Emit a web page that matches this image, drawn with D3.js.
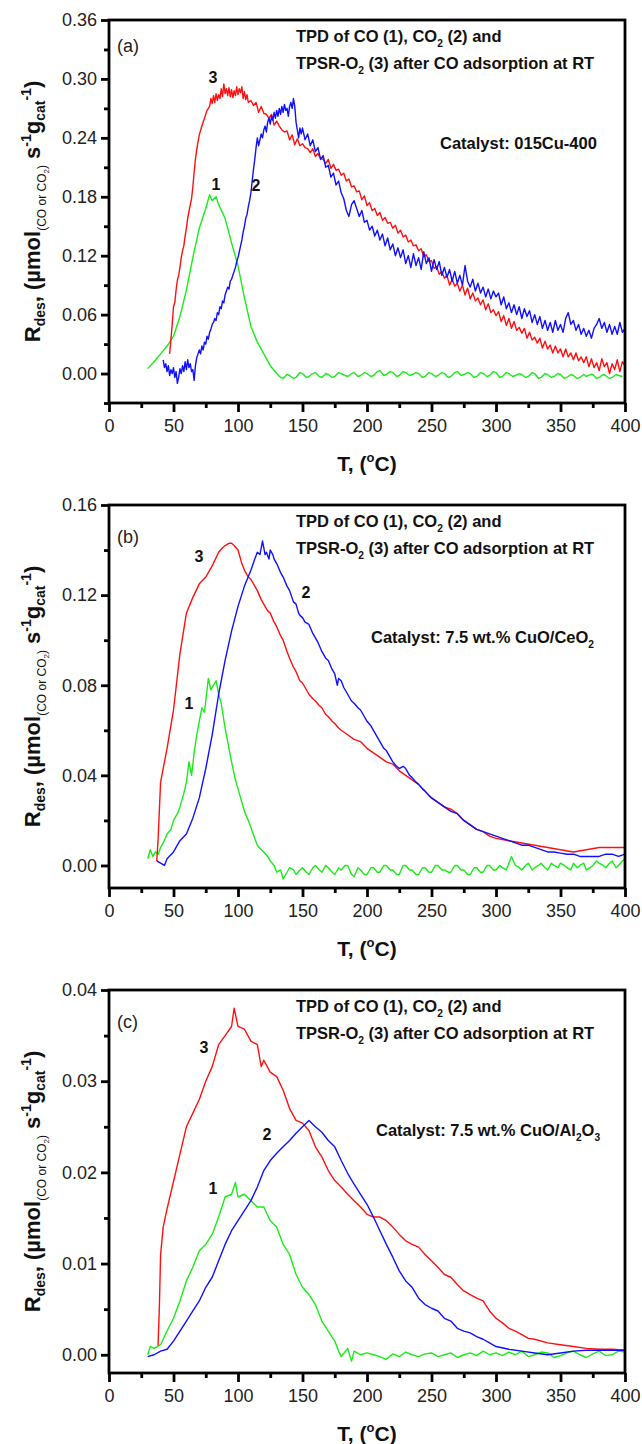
<!DOCTYPE html>
<html>
<head>
<meta charset="utf-8">
<script src="https://cdn.jsdelivr.net/npm/d3@7"></script>
<style>
  html, body { margin: 0; padding: 0; background: #fff; }
  svg { display: block; font-family: "Liberation Sans", Arial, sans-serif; }
</style>
</head>
<body>
<svg id="chart" width="642" height="1444"></svg>
<script>
// Temperature axis ticks (°C)
const tempTicks = [0, 50, 100, 150, 200, 250, 300, 350, 400];
const tempMinorTicks = [25, 75, 125, 175, 225, 275, 325, 375];

// Rate axis ticks for each panel
const rateTicksA = [0, 0.06, 0.12, 0.18, 0.24, 0.30, 0.36];
const rateMinorA = [-0.03, 0.03, 0.09, 0.15, 0.21, 0.27, 0.33];
const rateTicksB = [0, 0.04, 0.08, 0.12, 0.16];
const rateMinorB = [0.02, 0.06, 0.10, 0.14];
const rateTicksC = [0, 0.01, 0.02, 0.03, 0.04];
const rateMinorC = [0.005, 0.015, 0.025, 0.035];

// (a) 015Cu-400 — [T (°C), R_des]
const a_CO = [[30,0.005],[35,0.012],[40,0.02],[45,0.028],[50,0.038],[55,0.058],[60,0.085],[65,0.118],[70,0.148],[75,0.168],[78,0.182],[80,0.176],[83,0.18],[85,0.172],[90,0.158],[95,0.133],[100,0.11],[105,0.077],[110,0.048],[115,0.032],[120,0.02],[125,0.008],[130,0.0],[133,-0.004],[135,-0.005],[138,-0.001],[140,-0.002],[143,-0.005],[145,-0.004],[148,0.001],[150,0.0],[153,-0.004],[155,-0.003],[158,0.0],[160,0.001],[163,-0.003],[165,-0.004],[168,0.0],[170,-0.001],[173,-0.004],[175,-0.003],[178,0.001],[180,0.0],[183,-0.002],[185,-0.003],[188,0.0],[190,0.001],[193,-0.003],[195,-0.002],[198,0.001],[200,0.0],[203,-0.003],[205,-0.002],[208,0.002],[210,0.003],[213,-0.002],[215,-0.001],[218,0.002],[220,0.001],[223,-0.003],[225,-0.002],[228,0.002],[230,0.001],[233,-0.002],[235,-0.001],[238,0.001],[240,0.0],[243,-0.004],[245,-0.003],[248,0.001],[250,0.0],[253,-0.003],[255,-0.002],[258,0.001],[260,0.0],[263,-0.004],[265,-0.003],[268,0.001],[270,0.002],[273,-0.002],[275,-0.001],[278,0.001],[280,0.0],[283,-0.004],[285,-0.003],[288,0.001],[290,0.0],[293,-0.003],[295,-0.002],[298,0.002],[300,0.001],[303,-0.004],[305,-0.003],[308,0.001],[310,0.0],[313,-0.003],[315,-0.002],[318,0.0],[320,-0.001],[323,-0.004],[325,-0.003],[328,0.001],[330,0.0],[333,-0.005],[335,-0.004],[338,0.0],[340,-0.001],[343,-0.004],[345,-0.003],[348,0.0],[350,-0.001],[353,-0.005],[355,-0.004],[358,-0.001],[360,-0.002],[363,-0.005],[365,-0.004],[368,-0.001],[370,-0.003],[373,-0.001],[375,-0.001],[378,-0.005],[380,-0.004],[383,-0.001],[385,-0.002],[388,-0.005],[390,-0.004],[393,-0.001],[395,-0.002],[398,-0.003]];
const a_CO2 = [[42,0.014],[43,0.006],[44,0.01],[45,0.002],[46,0.008],[47,-0.002],[48,0.004],[49,0.0],[50,0.006],[51,-0.004],[52,0.002],[53,-0.01],[54,-0.004],[55,0.005],[56,0.0],[57,0.008],[58,0.002],[59,0.012],[60,0.004],[61,0.014],[62,0.006],[63,0.01],[64,0.002],[65,0.004],[66,-0.007],[67,0.008],[68,0.016],[69,0.02],[70,0.024],[71,0.02],[72,0.028],[73,0.024],[74,0.032],[75,0.03],[76,0.038],[77,0.035],[78,0.042],[79,0.045],[80,0.05],[81,0.052],[82,0.056],[83,0.054],[84,0.062],[85,0.06],[86,0.068],[87,0.066],[88,0.074],[89,0.072],[90,0.08],[91,0.084],[92,0.088],[93,0.086],[94,0.094],[95,0.096],[96,0.1],[97,0.104],[98,0.108],[99,0.114],[100,0.118],[101,0.124],[102,0.13],[103,0.136],[104,0.144],[105,0.15],[106,0.158],[107,0.162],[108,0.17],[109,0.176],[110,0.184],[111,0.196],[112,0.208],[113,0.218],[114,0.23],[115,0.24],[116,0.232],[117,0.238],[118,0.244],[119,0.24],[120,0.248],[121,0.252],[122,0.246],[123,0.256],[124,0.26],[125,0.254],[126,0.262],[127,0.258],[128,0.266],[129,0.26],[130,0.268],[131,0.262],[132,0.27],[133,0.264],[134,0.272],[135,0.266],[136,0.274],[137,0.268],[138,0.27],[139,0.262],[140,0.272],[141,0.276],[142,0.27],[143,0.28],[144,0.272],[145,0.256],[146,0.248],[147,0.24],[148,0.25],[149,0.244],[150,0.25],[152,0.238],[154,0.244],[156,0.232],[158,0.238],[160,0.226],[162,0.23],[164,0.218],[166,0.222],[168,0.21],[170,0.212],[172,0.2],[174,0.204],[176,0.192],[178,0.196],[180,0.184],[182,0.178],[184,0.166],[186,0.16],[188,0.172],[190,0.176],[192,0.168],[194,0.16],[196,0.166],[198,0.154],[200,0.156],[202,0.146],[204,0.15],[206,0.14],[208,0.146],[210,0.136],[212,0.142],[214,0.13],[216,0.138],[218,0.126],[220,0.132],[222,0.12],[224,0.128],[226,0.118],[228,0.126],[230,0.112],[232,0.12],[234,0.108],[236,0.122],[238,0.11],[240,0.118],[242,0.106],[244,0.124],[246,0.112],[248,0.118],[250,0.104],[252,0.116],[254,0.106],[256,0.114],[258,0.1],[260,0.108],[262,0.098],[264,0.106],[266,0.094],[268,0.104],[270,0.092],[272,0.1],[274,0.09],[276,0.11],[278,0.094],[280,0.088],[282,0.096],[284,0.084],[286,0.092],[288,0.082],[290,0.088],[292,0.078],[294,0.086],[296,0.076],[298,0.084],[300,0.078],[302,0.082],[304,0.07],[306,0.078],[308,0.066],[310,0.072],[312,0.062],[314,0.07],[316,0.06],[318,0.068],[320,0.056],[322,0.066],[324,0.058],[326,0.064],[328,0.052],[330,0.06],[332,0.05],[334,0.058],[336,0.046],[338,0.054],[340,0.044],[342,0.052],[344,0.042],[346,0.054],[348,0.044],[350,0.05],[352,0.042],[354,0.056],[356,0.062],[358,0.05],[360,0.054],[362,0.044],[364,0.05],[366,0.04],[368,0.046],[370,0.038],[372,0.044],[374,0.036],[376,0.046],[378,0.05],[380,0.056],[382,0.046],[384,0.052],[386,0.042],[388,0.05],[390,0.04],[392,0.048],[394,0.04],[396,0.052],[398,0.042],[400,0.046]];
const a_O2 = [[47,0.02],[48,0.035],[49,0.05],[50,0.068],[51,0.072],[52,0.085],[53,0.095],[54,0.1],[55,0.108],[56,0.118],[57,0.125],[58,0.13],[59,0.14],[60,0.148],[61,0.158],[62,0.165],[63,0.172],[64,0.178],[65,0.19],[66,0.205],[67,0.218],[68,0.228],[69,0.236],[70,0.243],[72,0.252],[74,0.26],[76,0.268],[78,0.272],[79,0.28],[80,0.275],[81,0.283],[82,0.276],[83,0.285],[84,0.278],[85,0.284],[86,0.28],[87,0.29],[88,0.282],[89,0.295],[90,0.285],[91,0.29],[92,0.283],[93,0.291],[94,0.282],[95,0.289],[96,0.281],[97,0.288],[98,0.283],[99,0.292],[100,0.284],[101,0.29],[102,0.286],[103,0.292],[104,0.28],[105,0.287],[106,0.279],[107,0.284],[108,0.276],[110,0.278],[112,0.273],[114,0.276],[116,0.266],[118,0.272],[120,0.265],[122,0.264],[124,0.26],[126,0.264],[128,0.253],[130,0.257],[132,0.252],[134,0.248],[136,0.246],[138,0.247],[140,0.238],[142,0.243],[144,0.233],[146,0.239],[148,0.232],[150,0.234],[152,0.23],[154,0.229],[156,0.225],[158,0.229],[160,0.221],[162,0.224],[164,0.219],[166,0.218],[168,0.214],[170,0.218],[172,0.209],[174,0.213],[176,0.207],[178,0.208],[180,0.202],[182,0.204],[184,0.196],[186,0.198],[188,0.19],[190,0.191],[192,0.185],[194,0.186],[196,0.177],[198,0.181],[200,0.171],[202,0.174],[204,0.166],[206,0.168],[208,0.161],[210,0.164],[212,0.156],[214,0.159],[216,0.153],[218,0.154],[220,0.148],[222,0.151],[224,0.143],[226,0.146],[228,0.139],[230,0.141],[232,0.134],[234,0.136],[236,0.13],[238,0.131],[240,0.125],[242,0.127],[244,0.119],[246,0.121],[248,0.114],[250,0.115],[252,0.107],[254,0.109],[256,0.101],[258,0.104],[260,0.097],[262,0.1],[264,0.09],[266,0.096],[268,0.089],[270,0.092],[272,0.084],[274,0.09],[276,0.08],[278,0.087],[280,0.076],[282,0.082],[284,0.074],[286,0.077],[288,0.07],[290,0.075],[292,0.065],[294,0.071],[296,0.062],[298,0.065],[300,0.059],[302,0.063],[304,0.053],[306,0.059],[308,0.049],[310,0.056],[312,0.046],[314,0.053],[316,0.044],[318,0.047],[320,0.041],[322,0.046],[324,0.036],[326,0.042],[328,0.034],[330,0.037],[332,0.031],[334,0.036],[336,0.026],[338,0.033],[340,0.025],[342,0.029],[344,0.021],[346,0.028],[348,0.021],[350,0.025],[352,0.017],[354,0.025],[356,0.017],[358,0.021],[360,0.014],[362,0.021],[364,0.013],[366,0.017],[368,0.011],[370,0.017],[372,0.007],[374,0.015],[376,0.006],[378,0.011],[380,0.003],[382,0.015],[384,0.007],[386,0.011],[388,0.0],[390,0.01],[392,0.004],[394,0.014],[396,0.002],[398,0.012],[400,0.008]];

// (b) 7.5 wt.% CuO/CeO2
const b_CO = [[30,0.003],[32,0.007],[34,0.004],[36,0.006],[38,0.005],[40,0.008],[42,0.01],[45,0.014],[48,0.016],[50,0.02],[53,0.023],[55,0.026],[58,0.032],[60,0.037],[62,0.046],[64,0.04],[66,0.05],[68,0.058],[70,0.064],[72,0.07],[74,0.068],[76,0.078],[77,0.083],[79,0.078],[81,0.08],[83,0.082],[85,0.076],[87,0.072],[90,0.061],[93,0.052],[95,0.046],[98,0.038],[100,0.034],[103,0.028],[105,0.024],[108,0.02],[110,0.017],[113,0.012],[115,0.009],[118,0.007],[120,0.006],[123,0.004],[125,0.002],[128,0.0],[130,-0.003],[133,-0.002],[135,-0.006],[138,-0.003],[140,-0.001],[143,-0.002],[145,-0.004],[148,-0.002],[150,-0.001],[153,-0.003],[155,-0.004],[158,-0.001],[160,0.0],[163,-0.002],[165,-0.003],[168,0.0],[170,-0.001],[173,-0.003],[175,-0.004],[178,-0.001],[180,-0.002],[183,0.0],[185,0.0],[188,-0.004],[190,-0.005],[193,-0.001],[195,-0.002],[198,-0.004],[200,-0.004],[203,-0.001],[205,-0.001],[208,-0.003],[210,-0.003],[213,0.0],[215,0.0],[218,-0.002],[220,-0.002],[223,-0.004],[225,-0.004],[228,0.0],[230,0.0],[233,-0.002],[235,-0.002],[238,-0.004],[240,-0.004],[243,-0.001],[245,-0.001],[248,-0.003],[250,-0.003],[253,0.0],[255,0.0],[258,-0.002],[260,-0.002],[263,-0.003],[265,-0.003],[268,0.0],[270,0.0],[273,-0.002],[275,-0.002],[278,-0.004],[280,-0.004],[283,-0.001],[285,-0.001],[288,-0.003],[290,-0.003],[293,0.0],[295,0.0],[298,-0.002],[300,-0.002],[303,0.0],[305,-0.001],[308,-0.002],[310,0.001],[312,0.004],[315,0.0],[318,-0.001],[320,-0.002],[323,0.0],[325,0.001],[328,-0.002],[330,-0.001],[333,0.0],[335,0.001],[338,-0.001],[340,-0.002],[343,0.001],[345,0.0],[348,-0.001],[350,0.001],[353,0.0],[355,-0.001],[358,-0.002],[360,0.001],[363,-0.001],[365,0.0],[368,0.001],[370,-0.002],[373,-0.001],[375,0.0],[378,0.002],[380,0.001],[383,0.0],[385,-0.001],[388,0.001],[390,0.002],[393,-0.001],[395,0.0],[398,0.002],[400,0.003]];
const b_CO2 = [[37,0.002],[40,0.001],[43,0.0],[45,0.003],[50,0.006],[55,0.011],[60,0.014],[65,0.021],[70,0.03],[75,0.043],[80,0.058],[85,0.076],[90,0.091],[95,0.104],[100,0.115],[105,0.124],[110,0.131],[113,0.136],[115,0.139],[117,0.138],[119,0.144],[121,0.138],[122,0.139],[124,0.136],[125,0.14],[127,0.138],[128,0.136],[130,0.134],[133,0.13],[135,0.128],[138,0.124],[140,0.122],[143,0.117],[145,0.116],[147,0.112],[148,0.111],[150,0.11],[152,0.108],[155,0.107],[158,0.103],[160,0.101],[162,0.099],[165,0.095],[168,0.092],[170,0.091],[173,0.087],[175,0.085],[177,0.08],[178,0.083],[180,0.082],[182,0.079],[185,0.076],[188,0.073],[190,0.072],[193,0.07],[195,0.069],[198,0.066],[200,0.064],[203,0.062],[205,0.06],[208,0.057],[210,0.055],[213,0.052],[215,0.051],[218,0.048],[220,0.046],[223,0.044],[225,0.043],[228,0.044],[230,0.043],[233,0.04],[235,0.039],[238,0.037],[240,0.036],[243,0.034],[245,0.033],[248,0.031],[250,0.03],[255,0.028],[260,0.026],[265,0.024],[270,0.023],[275,0.02],[280,0.018],[285,0.016],[290,0.015],[295,0.014],[300,0.013],[305,0.012],[310,0.011],[315,0.01],[320,0.009],[325,0.009],[330,0.008],[335,0.007],[340,0.006],[345,0.006],[350,0.0055],[355,0.005],[360,0.005],[365,0.004],[370,0.004],[375,0.004],[380,0.004],[385,0.005],[390,0.005],[395,0.004],[400,0.005]];
const b_O2 = [[37,0.002],[38,0.011],[40,0.037],[45,0.052],[50,0.069],[55,0.094],[60,0.112],[65,0.119],[70,0.125],[75,0.128],[80,0.133],[85,0.139],[88,0.141],[90,0.142],[93,0.143],[95,0.143],[97,0.142],[100,0.14],[103,0.134],[105,0.131],[108,0.128],[110,0.127],[113,0.124],[115,0.122],[118,0.118],[120,0.116],[123,0.113],[125,0.112],[128,0.108],[130,0.106],[133,0.102],[135,0.1],[138,0.095],[140,0.092],[143,0.088],[145,0.086],[148,0.082],[150,0.081],[153,0.078],[155,0.076],[158,0.074],[160,0.073],[163,0.071],[165,0.07],[168,0.067],[170,0.066],[173,0.064],[175,0.063],[178,0.061],[180,0.06],[185,0.058],[190,0.056],[195,0.055],[200,0.052],[205,0.05],[210,0.048],[215,0.046],[220,0.045],[225,0.042],[230,0.04],[235,0.038],[240,0.036],[245,0.033],[250,0.03],[255,0.028],[260,0.026],[265,0.025],[270,0.023],[275,0.02],[280,0.018],[285,0.016],[290,0.015],[295,0.013],[300,0.012],[310,0.011],[320,0.01],[330,0.009],[340,0.008],[350,0.007],[360,0.006],[370,0.007],[380,0.008],[390,0.008],[400,0.008]];

// (c) 7.5 wt.% CuO/Al2O3
const c_CO = [[30,0.0],[32,0.0009],[35,0.0007],[40,0.0011],[45,0.0026],[50,0.004],[55,0.0059],[60,0.0081],[65,0.0096],[70,0.0114],[75,0.0121],[80,0.0132],[85,0.0151],[90,0.0173],[95,0.0176],[98,0.0189],[100,0.0173],[105,0.0176],[110,0.0169],[115,0.0162],[120,0.0162],[125,0.0147],[130,0.014],[135,0.0121],[140,0.011],[145,0.0088],[150,0.0074],[155,0.0066],[160,0.0055],[165,0.0037],[170,0.0026],[175,0.0015],[178,0.0004],[180,-0.0002],[185,0.0007],[188,-0.0007],[190,0.0004],[195,0.0],[200,0.0002],[205,0.0],[210,-0.0002],[215,-0.0005],[220,0.0001],[225,-0.0002],[230,0.0003],[235,0.0],[240,-0.0002],[245,0.0001],[250,0.0002],[255,-0.0002],[260,0.0],[265,0.0002],[270,-0.0003],[275,0.0],[280,0.0002],[285,-0.0001],[290,0.0004],[295,0.0],[300,0.0002],[305,-0.0001],[310,0.0003],[315,0.0],[320,0.0004],[325,-0.0002],[330,0.0],[335,0.0003],[340,0.0002],[345,-0.0003],[350,-0.0001],[355,0.0002],[360,0.0004],[365,0.0],[370,-0.0003],[375,0.0001],[380,0.0004],[385,-0.0001],[390,0.0],[395,0.0004],[400,0.0003]];
const c_CO2 = [[30,-0.0002],[35,0.0],[40,0.0004],[45,0.0006],[50,0.0015],[55,0.0026],[60,0.0037],[65,0.0048],[70,0.0059],[75,0.0074],[80,0.0085],[85,0.0103],[90,0.0121],[95,0.0136],[100,0.0147],[105,0.0158],[110,0.0169],[115,0.0184],[120,0.0202],[125,0.0213],[130,0.0221],[135,0.0228],[140,0.0235],[145,0.0243],[150,0.025],[155,0.0257],[160,0.025],[165,0.0244],[170,0.0235],[175,0.0228],[180,0.0213],[185,0.0199],[190,0.0187],[195,0.0176],[200,0.0165],[205,0.0151],[210,0.0136],[215,0.0121],[220,0.0107],[225,0.0092],[230,0.0081],[235,0.0074],[240,0.0062],[245,0.0055],[250,0.0051],[255,0.0048],[260,0.004],[265,0.0037],[270,0.0029],[275,0.0026],[280,0.0024],[285,0.002],[290,0.0017],[295,0.0013],[300,0.0009],[310,0.0006],[320,0.0004],[330,0.0002],[340,0.0],[350,0.0002],[360,0.0004],[370,0.0005],[380,0.0005],[390,0.0005],[400,0.0005]];
const c_O2 = [[38,0.001],[39,0.005],[40,0.011],[42,0.014],[45,0.016],[50,0.019],[55,0.022],[60,0.025],[65,0.0265],[70,0.028],[75,0.03],[80,0.0316],[85,0.034],[90,0.035],[95,0.036],[97,0.038],[100,0.036],[105,0.0357],[110,0.0344],[115,0.034],[118,0.0316],[120,0.0323],[125,0.031],[130,0.0305],[135,0.029],[140,0.027],[145,0.0257],[150,0.0254],[155,0.0246],[160,0.0228],[165,0.0217],[170,0.0202],[175,0.0191],[180,0.0184],[185,0.0176],[190,0.0169],[195,0.0162],[200,0.0154],[205,0.0151],[210,0.0151],[215,0.0147],[220,0.014],[225,0.0132],[230,0.0125],[235,0.0121],[240,0.0118],[245,0.011],[250,0.0103],[255,0.0096],[260,0.0088],[265,0.0085],[270,0.0077],[275,0.007],[280,0.0066],[285,0.0062],[290,0.0059],[295,0.0048],[300,0.004],[305,0.0035],[310,0.0029],[315,0.0026],[320,0.0022],[325,0.0018],[330,0.0017],[340,0.0013],[350,0.0011],[360,0.0009],[370,0.0007],[380,0.0006],[390,0.0006],[400,0.0005]];

// Curve number labels: [label, T, R_des]
const a_labels = [["3", 80.6, 0.301], ["1", 82.9, 0.192], ["2", 114, 0.191]];
const b_labels = [["3", 69.8, 0.137], ["2", 152.7, 0.121], ["1", 62, 0.072]];
const c_labels = [["3", 73.6, 0.0337], ["2", 122.5, 0.0241], ["1", 80.6, 0.0182]];

const COLORS = { CO: "#19ec19", CO2: "#1010ff", O2: "#ff1010" };

const panels = [
  { letter: "(a)", top: 20, yDomain: [-0.03, 0.36], ticks: rateTicksA, minor: rateMinorA,
    series: { CO: a_CO, CO2: a_CO2, O2: a_O2 }, labels: a_labels, letterDy: 32,
    catalyst: [["Catalyst: 015Cu-400", 0]], catX: 440, catDy: 129 },
  { letter: "(b)", top: 505, yDomain: [-0.01, 0.16], ticks: rateTicksB, minor: rateMinorB,
    series: { CO: b_CO, CO2: b_CO2, O2: b_O2 }, labels: b_labels, letterDy: 38,
    catalyst: [["Catalyst: 7.5 wt.% CuO/CeO", 0], ["2", 1]], catX: 371, catDy: 138 },
  { letter: "(c)", top: 990, yDomain: [-0.002, 0.04], ticks: rateTicksC, minor: rateMinorC,
    series: { CO: c_CO, CO2: c_CO2, O2: c_O2 }, labels: c_labels, letterDy: 38,
    catalyst: [["Catalyst: 7.5 wt.% CuO/Al", 0], ["2", 1], ["O", 0], ["3", 1]], catX: 376, catDy: 146 }
];

const svg = d3.select("#chart");
const left = 109, right = 625, plotH = 383;

// Writes a sequence of runs with per-run size, weight and vertical shift.
function richText(sel, runs) {
  let cur = 0;
  runs.forEach(r => {
    const shift = r.shift || 0;
    sel.append("tspan")
      .attr("dy", shift - cur)
      .attr("font-size", r.size)
      .attr("font-weight", r.weight || "bold")
      .text(r.t);
    cur = shift;
  });
}

// Converts [text, isSubscript] pairs into rich-text runs at a given size.
function subRuns(pairs, size) {
  return pairs.map(([t, sub]) => sub
    ? { t, size: size * 0.62, shift: size * 0.3 }
    : { t, size });
}

panels.forEach(p => {
  const top = p.top, bottom = top + plotH;
  const x = d3.scaleLinear().domain([0, 400]).range([left, right]);
  const y = d3.scaleLinear().domain(p.yDomain).range([bottom, top]);
  const g = svg.append("g");

  // Curves
  const line = d3.line().x(d => x(d[0])).y(d => y(d[1]));
  ["CO", "O2", "CO2"].forEach(k => {
    g.append("path")
      .datum(p.series[k])
      .attr("fill", "none")
      .attr("stroke", COLORS[k])
      .attr("stroke-width", 1.4)
      .attr("stroke-linejoin", "round")
      .attr("d", line);
  });

  // Frame
  g.append("rect")
    .attr("x", left).attr("y", top)
    .attr("width", right - left).attr("height", plotH)
    .attr("fill", "none").attr("stroke", "#000").attr("stroke-width", 2.8);

  // Y axis: major with labels, minor without
  const yAxis = g.append("g").attr("transform", `translate(${left},0)`)
    .call(d3.axisLeft(y).tickValues(p.ticks).tickFormat(d3.format(".2f")).tickSize(8).tickPadding(4));
  const yMinor = g.append("g").attr("transform", `translate(${left},0)`)
    .call(d3.axisLeft(y).tickValues(p.minor).tickFormat("").tickSize(5));

  // X axis
  const xAxis = g.append("g").attr("transform", `translate(0,${bottom})`)
    .call(d3.axisBottom(x).tickValues(tempTicks).tickFormat(d3.format("d")).tickSize(9).tickPadding(7));
  const xMinor = g.append("g").attr("transform", `translate(0,${bottom})`)
    .call(d3.axisBottom(x).tickValues(tempMinorTicks).tickFormat("").tickSize(5));

  [yAxis, yMinor, xAxis, xMinor].forEach(a => {
    a.select(".domain").remove();
    a.selectAll(".tick line").attr("stroke", "#000").attr("stroke-width", 2.8);
    a.selectAll(".tick text")
      .attr("font-family", "'Liberation Sans', Arial, sans-serif")
      .attr("font-size", 18).attr("fill", "#222");
  });

  // Panel letter
  g.append("text").attr("x", 117).attr("y", top + p.letterDy)
    .attr("font-size", 18).attr("fill", "#222").text(p.letter);

  // Description lines
  const t1 = g.append("text").attr("x", 296).attr("y", top + 22).attr("fill", "#111");
  richText(t1, subRuns([["TPD of CO (1), CO", 0], ["2", 1], [" (2) and", 0]], 16.5));
  const t2 = g.append("text").attr("x", 296).attr("y", top + 49).attr("fill", "#111");
  richText(t2, subRuns([["TPSR-O", 0], ["2", 1], [" (3) after CO adsorption at RT", 0]], 16.5));
  const t3 = g.append("text").attr("x", p.catX).attr("y", top + p.catDy).attr("fill", "#111");
  richText(t3, subRuns(p.catalyst, 16.5));

  // Curve numbers
  g.selectAll(".num").data(p.labels).enter().append("text")
    .attr("x", d => x(d[1])).attr("y", d => y(d[2]))
    .attr("text-anchor", "middle").attr("dominant-baseline", "central")
    .attr("font-size", 16).attr("font-weight", "bold").attr("fill", "#111")
    .text(d => d[0]);

  // X title
  const xt = g.append("text").attr("x", (left + right) / 2).attr("y", bottom + 68)
    .attr("text-anchor", "middle").attr("fill", "#111");
  richText(xt, [
    { t: "T, (", size: 21 },
    { t: "o", size: 13, shift: -9 },
    { t: "C)", size: 21, shift: 0 }
  ]);

  // Y title
  const yt = g.append("text")
    .attr("transform", `translate(40,${(top + bottom) / 2}) rotate(-90)`)
    .attr("text-anchor", "middle").attr("fill", "#111");
  richText(yt, [
    { t: "R", size: 22 },
    { t: "des", size: 14, shift: 5 },
    { t: ", (\u00b5mol", size: 22, shift: 0 },
    { t: "(CO or CO", size: 12, weight: "normal", shift: 6 },
    { t: "2", size: 8, weight: "normal", shift: 9 },
    { t: ")", size: 12, weight: "normal", shift: 6 },
    { t: " s", size: 22, shift: 0 },
    { t: "-1", size: 14, shift: -9 },
    { t: "g", size: 22, shift: 0 },
    { t: "cat", size: 14, shift: 5 },
    { t: "-1", size: 14, shift: -9 },
    { t: ")", size: 22, shift: 0 }
  ]);
});
</script>
</body>
</html>
